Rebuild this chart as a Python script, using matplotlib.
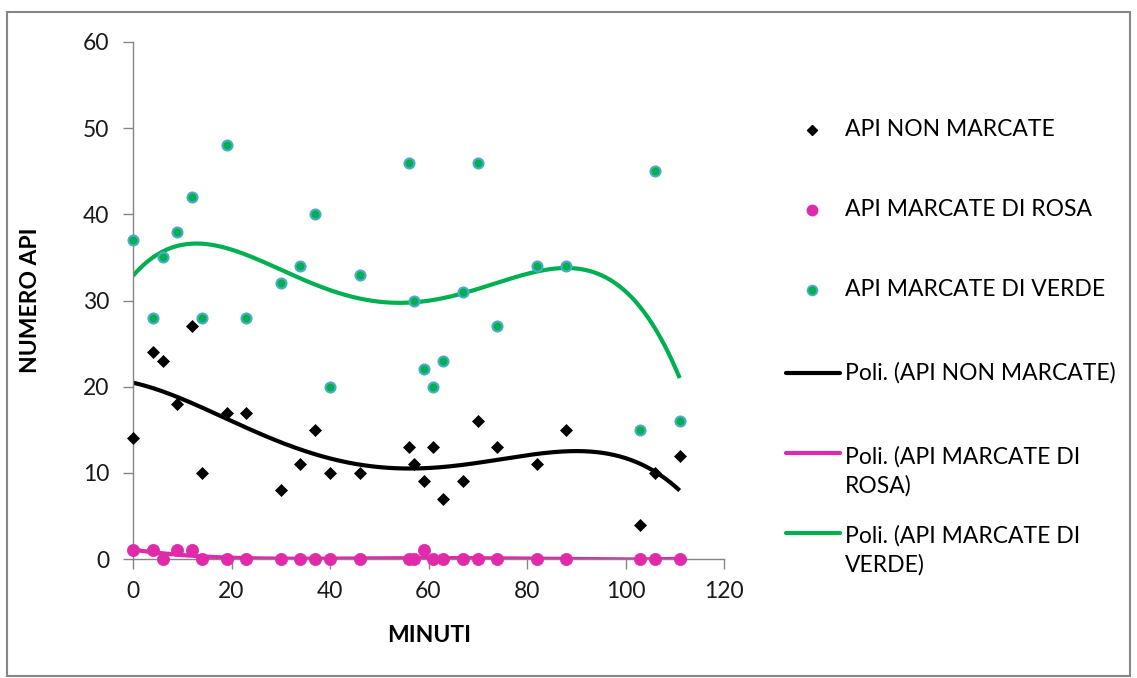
import numpy as np
import matplotlib
matplotlib.use("Agg")
import matplotlib.pyplot as plt
from matplotlib.lines import Line2D
from matplotlib.patches import Rectangle

plt.rcParams['font.family'] = ['Lato', 'DejaVu Sans']

# Observation times (minutes) and bee counts
minuti = [0, 4, 6, 9, 12, 14, 19, 23, 30, 34, 37, 40, 46, 56, 57, 59, 61, 63,
          67, 70, 74, 82, 88, 103, 106, 111]
api_non_marcate = [14, 24, 23, 18, 27, 10, 17, 17, 8, 11, 15, 10, 10, 13, 11, 9,
                   13, 7, 9, 16, 13, 11, 15, 4, 10, 12]
api_rosa = [1, 1, 0, 1, 1, 0, 0, 0, 0, 0, 0, 0, 0, 0, 0, 1, 0, 0, 0, 0, 0, 0, 0,
            0, 0, 0]
api_verde = [37, 28, 35, 38, 42, 28, 48, 28, 32, 34, 40, 20, 33, 46, 30, 22, 20,
             23, 31, 46, 27, 34, 34, 15, 45, 16]

x_ticks = [0, 20, 40, 60, 80, 100, 120]
y_ticks = [0, 10, 20, 30, 40, 50, 60]

POLY_ORDER = 4

BLACK = '#000000'
PINK = '#E02AAA'
GREEN = '#00B050'
GREEN_EDGE = '#4BACC6'
AXIS_GRAY = '#868686'

W, H = 1137, 678
fig = plt.figure(figsize=(W / 100, H / 100), dpi=100)
fig.patch.set_facecolor('white')


def fx(px):
    return px / W


def fy(py):
    return 1 - py / H


ax = fig.add_axes([fx(133), fy(559), fx(724) - fx(133), fy(42) - fy(559)])

x = np.array(minuti, dtype=float)
xs = np.linspace(x.min(), x.max(), 400)

series = [
    (api_non_marcate, BLACK, 'API NON MARCATE'),
    (api_rosa, PINK, 'API MARCATE DI ROSA'),
    (api_verde, GREEN, 'API MARCATE DI VERDE'),
]

# polynomial trend lines
for vals, col, _ in series:
    coef = np.polyfit(x, np.array(vals, dtype=float), POLY_ORDER)
    ax.plot(xs, np.polyval(coef, xs), color=col, lw=3.0, zorder=2,
            solid_capstyle='butt')

# scatter points
ax.plot(minuti, api_non_marcate, linestyle='none', marker='D', ms=6.2,
        mfc=BLACK, mec=BLACK, mew=0.5, zorder=3, clip_on=False)
ax.plot(minuti, api_rosa, linestyle='none', marker='o', ms=8.8,
        mfc=PINK, mec=PINK, mew=0.5, zorder=3, clip_on=False)
ax.plot(minuti, api_verde, linestyle='none', marker='o', ms=7.2,
        mfc=GREEN, mec=GREEN_EDGE, mew=1.5, zorder=3, clip_on=False)

ax.set_xlim(0, 120)
ax.set_ylim(0, 60)
ax.set_xticks(x_ticks)
ax.set_yticks(y_ticks)
ax.set_xticklabels([str(v) for v in x_ticks])
ax.set_yticklabels([str(v) for v in y_ticks])

for s in ['top', 'right']:
    ax.spines[s].set_visible(False)
for s in ['left', 'bottom']:
    ax.spines[s].set_color(AXIS_GRAY)
    ax.spines[s].set_linewidth(1.0)

ax.tick_params(axis='both', direction='out', length=7, width=1.0,
               color=AXIS_GRAY, labelsize=16.5, labelcolor='#1a1a1a')
ax.tick_params(axis='y', pad=10)
ax.tick_params(axis='x', pad=9)
ax.set_facecolor('none')

fig.text(fx(429), fy(635), 'MINUTI', ha='center', va='center',
         fontsize=16.5, fontweight='bold')
fig.text(fx(31), fy(300), 'NUMERO API', ha='center', va='center',
         fontsize=16.5, fontweight='bold', rotation=90)

# legend
leg_fs = 16.5
mark_x = 812
text_x = 845
fig.add_artist(Line2D([fx(mark_x)], [fy(130)], marker='D', ms=5.5,
                      mfc=BLACK, mec=BLACK, linestyle='none',
                      transform=fig.transFigure))
fig.add_artist(Line2D([fx(mark_x)], [fy(210)], marker='o', ms=7.5,
                      mfc=PINK, mec=PINK, linestyle='none',
                      transform=fig.transFigure))
fig.add_artist(Line2D([fx(mark_x)], [fy(290)], marker='o', ms=7.0,
                      mfc=GREEN, mec=GREEN_EDGE, mew=1.3, linestyle='none',
                      transform=fig.transFigure))
fig.text(fx(text_x), fy(130), 'API NON MARCATE', ha='left', va='center',
         fontsize=leg_fs)
fig.text(fx(text_x), fy(210), 'API MARCATE DI ROSA', ha='left', va='center',
         fontsize=leg_fs)
fig.text(fx(text_x), fy(290), 'API MARCATE DI VERDE', ha='left', va='center',
         fontsize=leg_fs)

line_entries = [
    (373, BLACK, 'Poli. (API NON MARCATE)', 373),
    (453, PINK, 'Poli. (API MARCATE DI\nROSA)', 471.5),
    (533, GREEN, 'Poli. (API MARCATE DI\nVERDE)', 550),
]
for ly, col, lab, ty in line_entries:
    fig.add_artist(Line2D([fx(786), fx(840)], [fy(ly), fy(ly)], color=col,
                          lw=3.0, solid_capstyle='round',
                          transform=fig.transFigure))
    fig.text(fx(text_x), fy(ty), lab, ha='left', va='center',
             fontsize=leg_fs, linespacing=1.42)

# chart border
fig.add_artist(Rectangle((fx(7), fy(676)), fx(1130) - fx(7), fy(12) - fy(676),
                         fill=False, edgecolor=AXIS_GRAY, lw=1.5,
                         transform=fig.transFigure))

fig.savefig('out.png', dpi=100)
